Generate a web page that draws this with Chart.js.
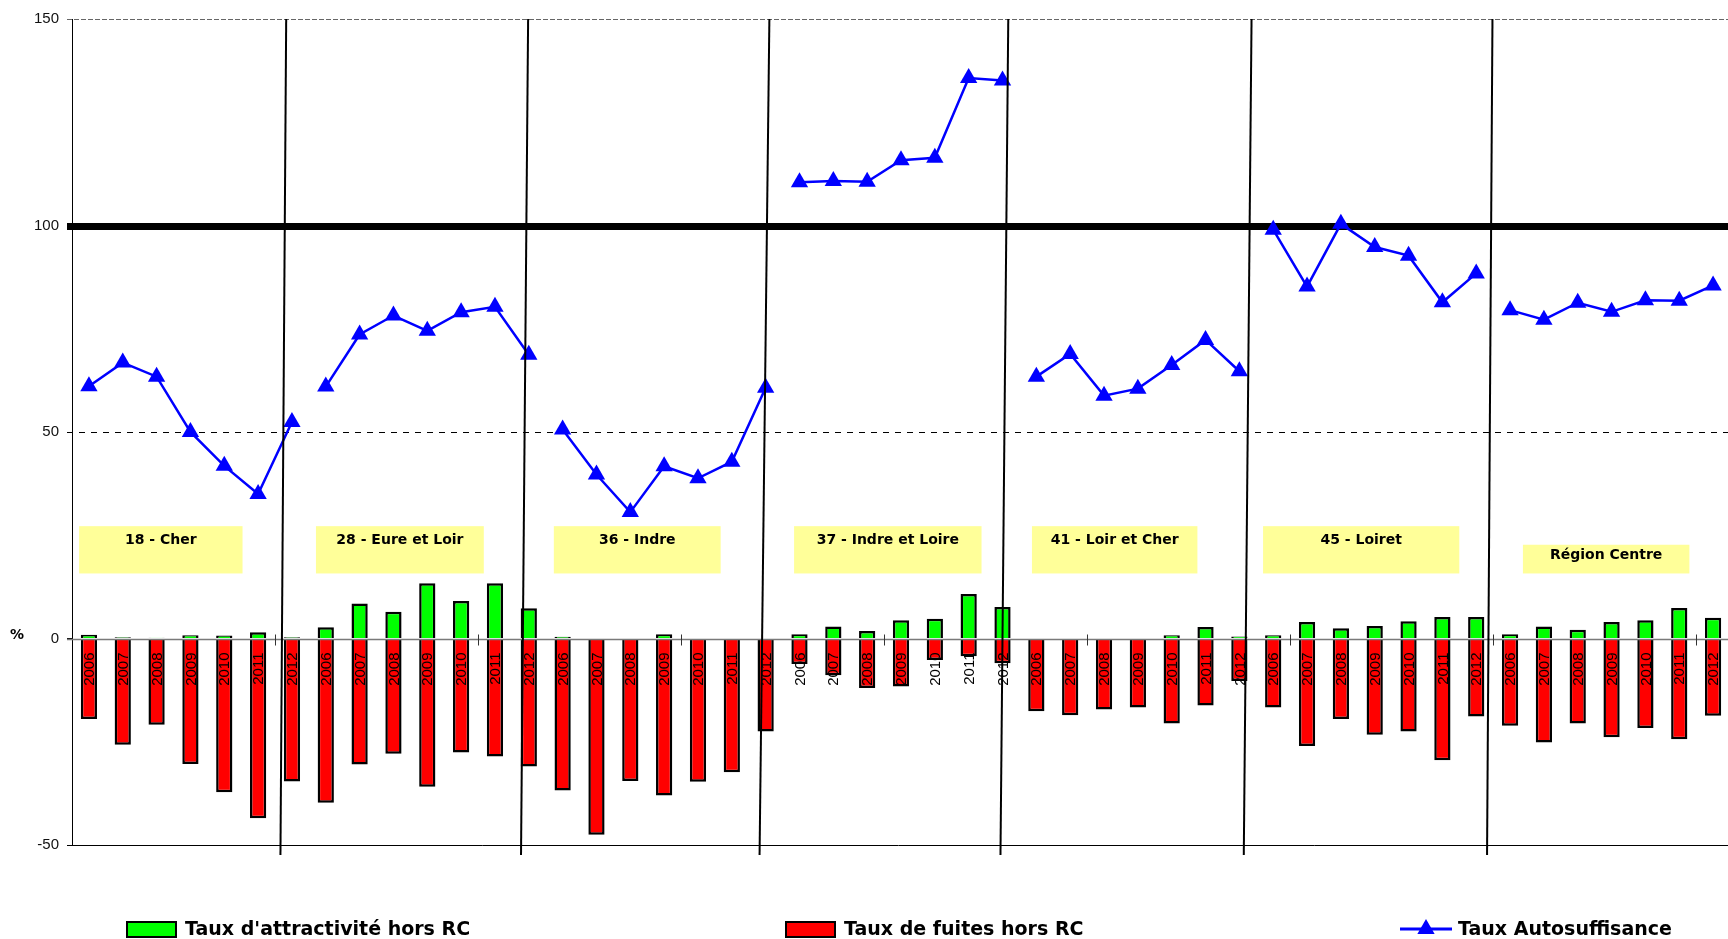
<!DOCTYPE html>
<html lang="fr">
<head>
<meta charset="utf-8">
<title>Taux d'autosuffisance, d'attractivité et de fuites</title>
<script src="https://cdn.jsdelivr.net/npm/chart.js@4.4.1/dist/chart.umd.min.js"></script>
<style>
  html, body { margin: 0; padding: 0; background: #fff; overflow: hidden; }
  canvas { display: block; }
</style>
</head>
<body>
<canvas id="chart" width="1740" height="939"></canvas>
<script>
// Départements de la région Centre, années 2006-2012
const departements = ['18 - Cher', '28 - Eure et Loir', '36 - Indre', '37 - Indre et Loire',
                      '41 - Loir et Cher', '45 - Loiret', 'Région Centre'];
const annees = ['2006', '2007', '2008', '2009', '2010', '2011', '2012'];

const tauxAttractivite = [
  0.9, 0.3, 0.2, 0.8, 0.7, 1.5, 0.3,
  2.7, 8.5, 6.5, 13.4, 9.1, 13.4, 7.3,
  0.4, 0, 0, 1.0, 0, 0, 0,
  1.0, 2.9, 1.8, 4.4, 4.8, 10.8, 7.6,
  0, 0, 0, 0, 0.8, 2.8, 0.5,
  0.8, 4.0, 2.5, 3.0, 4.2, 5.2, 5.2,
  1.0, 2.9, 2.1, 4.0, 4.4, 7.4, 5.0
];
const tauxFuites = [
  -19.5, -25.7, -20.9, -30.4, -37.2, -43.5, -34.6,
  -39.8, -30.5, -27.9, -35.9, -27.6, -28.6, -31.0,
  -36.8, -47.5, -34.5, -38.0, -34.7, -32.4, -22.5,
  -6.2, -8.9, -12.0, -11.6, -5.2, -4.3, -6.0,
  -17.6, -18.6, -17.2, -16.7, -20.6, -16.2, -10.3,
  -16.7, -26.0, -19.5, -23.3, -22.5, -29.5, -18.9,
  -21.1, -25.2, -20.6, -23.9, -21.7, -24.4, -18.7
];
const tauxAutosuffisance = [
  61.1, 66.8, 63.4, 50.0, 41.8, 35.0, 52.4,
  61.0, 73.6, 78.2, 74.5, 79.0, 80.3, 68.7,
  50.6, 39.7, 30.6, 41.7, 38.8, 42.8, 60.7,
  110.5, 110.8, 110.6, 115.8, 116.4, 135.7, 135.1,
  63.4, 68.9, 58.8, 60.5, 66.2, 72.3, 64.7,
  99.0, 85.2, 100.4, 94.8, 92.7, 81.4, 88.4,
  79.5, 77.2, 81.3, 79.1, 81.9, 81.8, 85.5
];
const yTicks = [-50, 0, 50, 100, 150];

const labels = departements.flatMap(() => annees);
const groupe = i => Math.floor(i / annees.length);

// traits de séparation entre départements (en index de catégorie)
const separateurs = [
  { haut: 5.83, bas: 5.66 }, { haut: 12.98, bas: 12.77 }, { haut: 20.11, bas: 19.82 },
  { haut: 27.17, bas: 26.94 }, { haut: 34.36, bas: 34.13 }, { haut: 41.48, bas: 41.32 }
];
// cadres jaunes des noms de départements
const cadres = [
  { de: -0.29, a: 4.54, haut: 27.2 }, { de: 6.71, a: 11.67, haut: 27.2 },
  { de: 13.74, a: 18.67, haut: 27.2 }, { de: 20.84, a: 26.38, haut: 27.2 },
  { de: 27.87, a: 32.76, haut: 27.2 }, { de: 34.70, a: 40.50, haut: 27.2 },
  { de: 42.38, a: 47.30, haut: 22.7 }
];

const FONT = '"DejaVu Sans", "Liberation Sans", sans-serif';

function triangle(ctx, x, y, r) {
  ctx.beginPath();
  ctx.moveTo(x, y - r);
  ctx.lineTo(x + r * 0.866, y + r / 2);
  ctx.lineTo(x - r * 0.866, y + r / 2);
  ctx.closePath();
  ctx.fill();
}

const habillage = {
  id: 'habillage',
  beforeDatasetsDraw(chart) {
    const { ctx, chartArea: a, scales: { y } } = chart;
    ctx.save();
    const ligne = (v, color, width, dash) => {
      const py = Math.round(y.getPixelForValue(v)) + (width % 2 ? 0.5 : 0);
      ctx.beginPath();
      ctx.strokeStyle = color;
      ctx.lineWidth = width;
      ctx.setLineDash(dash);
      ctx.moveTo(a.left - 5, py);
      ctx.lineTo(a.right, py);
      ctx.stroke();
    };
    ligne(150, '#666', 1, [5, 2]);
    ligne(50, '#000', 1, [6, 6]);
    ligne(-50, '#000', 1, []);
    ligne(100, '#000', 7, []);
    ctx.restore();
  },
  afterDatasetsDraw(chart) {
    const { ctx, chartArea: a, scales: { x, y } } = chart;
    const y0 = Math.round(y.getPixelForValue(0)) + 0.5;
    ctx.save();
    // axe des abscisses à 0
    ctx.strokeStyle = '#7a7a7a';
    ctx.lineWidth = 1.5;
    ctx.beginPath();
    ctx.moveTo(a.left - 5, y0);
    ctx.lineTo(a.right, y0);
    ctx.stroke();
    ctx.lineWidth = 1;
    ctx.strokeStyle = '#333';
    for (let k = 1; k * 6 < labels.length; k++) {
      const px = Math.round(x.getPixelForValue(k * 6 - 0.5)) + 0.5;
      ctx.beginPath();
      ctx.moveTo(px, y0 - 5);
      ctx.lineTo(px, y0 + 6);
      ctx.stroke();
    }
    // années en vertical sous l'axe
    ctx.fillStyle = '#000';
    ctx.font = '15px "Liberation Sans", Arial, sans-serif';
    ctx.textAlign = 'right';
    ctx.textBaseline = 'middle';
    labels.forEach((lab, i) => {
      ctx.save();
      ctx.translate(x.getPixelForValue(i), y0 + 13);
      ctx.rotate(-Math.PI / 2);
      ctx.fillText(lab, 0, 1);
      ctx.restore();
    });
    ctx.restore();
  },
  afterDraw(chart) {
    const { ctx, scales: { x, y } } = chart;
    ctx.save();
    // séparateurs
    ctx.strokeStyle = '#000';
    ctx.lineWidth = 2;
    separateurs.forEach(s => {
      ctx.beginPath();
      ctx.moveTo(x.getPixelForValue(s.haut), y.getPixelForValue(150));
      ctx.lineTo(x.getPixelForValue(s.bas), y.getPixelForValue(-52.4));
      ctx.stroke();
    });
    // cadres de titres
    ctx.font = 'bold 14px ' + FONT;
    ctx.textAlign = 'center';
    ctx.textBaseline = 'middle';
    cadres.forEach((c, i) => {
      const l = x.getPixelForValue(c.de), r = x.getPixelForValue(c.a);
      const t = y.getPixelForValue(c.haut), b = y.getPixelForValue(15.75);
      ctx.fillStyle = '#FFFF99';
      ctx.fillRect(l, t, r - l, b - t);
      ctx.fillStyle = '#000';
      ctx.fillText(departements[i], (l + r) / 2, t + (i === cadres.length - 1 ? 11 : 14));
    });
    // unité de l'axe
    ctx.font = 'bold 14px ' + FONT;
    ctx.fillText('%', 17, y.getPixelForValue(0) - 3);

    // légende
    const ds = chart.data.datasets;
    const ly = 929;
    ctx.font = 'bold 19px ' + FONT;
    ctx.textAlign = 'left';
    [[127, 0], [786, 1]].forEach(([lx, k]) => {
      ctx.fillStyle = ds[k].backgroundColor;
      ctx.fillRect(lx, ly - 7, 49, 15);
      ctx.strokeStyle = '#000';
      ctx.lineWidth = 2;
      ctx.strokeRect(lx, ly - 7, 49, 15);
      ctx.fillStyle = '#000';
      ctx.fillText(ds[k].label, lx + 58, ly + 1);
    });
    ctx.strokeStyle = ds[2].borderColor;
    ctx.lineWidth = 3;
    ctx.beginPath();
    ctx.moveTo(1400, ly);
    ctx.lineTo(1452, ly);
    ctx.stroke();
    ctx.fillStyle = ds[2].borderColor;
    triangle(ctx, 1426, ly, 10);
    ctx.fillStyle = '#000';
    ctx.fillText(ds[2].label, 1458, ly + 1);
    ctx.restore();
  }
};

new Chart(document.getElementById('chart').getContext('2d'), {
  data: {
    labels: labels,
    datasets: [
      {
        type: 'bar',
        label: "Taux d'attractivité hors RC",
        data: tauxAttractivite,
        backgroundColor: '#00FF00',
        borderColor: '#000',
        borderWidth: 2.5,
        borderSkipped: 'start',
        grouped: false,
        barPercentage: 0.48,
        categoryPercentage: 1,
        order: 2
      },
      {
        type: 'bar',
        label: 'Taux de fuites hors RC',
        data: tauxFuites,
        backgroundColor: '#FF0000',
        borderColor: '#000',
        borderWidth: 2.5,
        borderSkipped: 'start',
        grouped: false,
        barPercentage: 0.48,
        categoryPercentage: 1,
        order: 1
      },
      {
        type: 'line',
        label: 'Taux Autosuffisance',
        data: tauxAutosuffisance,
        borderColor: '#0000FF',
        borderWidth: 2.5,
        tension: 0,
        pointStyle: 'triangle',
        pointRadius: 10,
        pointBackgroundColor: '#0000FF',
        pointBorderWidth: 0,
        segment: {
          borderColor: c => groupe(c.p0DataIndex) !== groupe(c.p1DataIndex) ? 'rgba(0,0,0,0)' : undefined
        },
        order: 0
      }
    ]
  },
  options: {
    responsive: false,
    animation: false,
    layout: { padding: { top: 19, bottom: 94, left: 0, right: 1 } },
    plugins: { legend: { display: false }, tooltip: { enabled: false } },
    scales: {
      x: { type: 'category', display: false, offset: true },
      y: {
        min: -50,
        max: 150,
        afterBuildTicks: s => { s.ticks = yTicks.map(v => ({ value: v })); },
        afterFit: s => { s.width = 72; },
        ticks: { color: '#111', padding: 8, font: { family: '"Liberation Sans", Arial, sans-serif', size: 15 } },
        grid: { drawOnChartArea: false, drawTicks: true, tickLength: 5, color: '#000' },
        border: { color: '#000', width: 1 }
      }
    }
  },
  plugins: [habillage]
});
</script>
</body>
</html>
